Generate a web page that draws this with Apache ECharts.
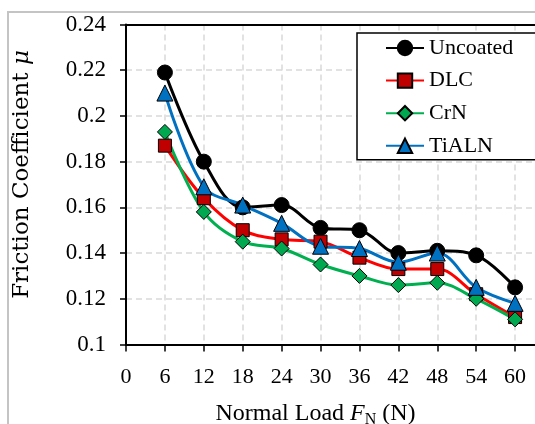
<!DOCTYPE html>
<html>
<head>
<meta charset="utf-8">
<script src="https://cdn.jsdelivr.net/npm/echarts@6/dist/echarts.min.js"></script>
<style>
html,body{margin:0;padding:0;background:#fff;}
#chart{width:535px;height:424px;}
</style>
</head>
<body>
<div id="chart"></div>
<script>
// ---- data ----
var loads = [6, 12, 18, 24, 30, 36, 42, 48, 54, 60];
var uncoated = [0.219, 0.180, 0.160, 0.161, 0.151, 0.150, 0.140, 0.141, 0.139, 0.125];
var dlc      = [0.187, 0.164, 0.150, 0.146, 0.145, 0.138, 0.133, 0.133, 0.122, 0.112];
var crn      = [0.193, 0.158, 0.145, 0.142, 0.135, 0.130, 0.126, 0.127, 0.120, 0.111];
var tialn    = [0.210, 0.169, 0.161, 0.153, 0.143, 0.142, 0.136, 0.140, 0.125, 0.118];
var seriesNames = ['Uncoated', 'DLC', 'CrN', 'TiALN'];
var xTitle = 'Normal Load {i|F}{sub|N} (N)';
var yTitle = 'Friction Coefficient {i|μ}';

function pairs(vals) {
  return loads.map(function (x, i) { return [x, vals[i]]; });
}

var serif = "'Liberation Serif', 'Times New Roman', serif";

function mk(name, vals, symbol, size, lineColor, fillColor, borderW) {
  return {
    name: name,
    type: 'line',
    xAxisIndex: 0,
    data: pairs(vals),
    smooth: 0.35,
    symbol: symbol,
    symbolSize: size,
    lineStyle: { color: lineColor, width: 3 },
    itemStyle: { color: fillColor, borderColor: '#000', borderWidth: borderW },
    emphasis: { disabled: true }
  };
}

var chart = echarts.init(document.getElementById('chart'), null, { renderer: 'canvas' });
chart.setOption({
  animation: false,
  backgroundColor: '#fff',
  graphic: [{
    type: 'rect',
    z: -10,
    shape: { x: 8, y: 12, width: 700, height: 600 },
    style: { fill: 'none', stroke: '#c4c4c4', lineWidth: 2 }
  }],
  grid: {
    left: 126, top: 24.5, width: 428, height: 320,
    outerBoundsMode: 'none',
    containLabel: false
  },
  legend: {
    orient: 'vertical',
    left: 357, top: 33,
    padding: [4, 110, 3, 28],
    itemGap: 10.6,
    itemWidth: 38, itemHeight: 18,
    backgroundColor: '#fff',
    borderColor: '#000', borderWidth: 1.5,
    data: seriesNames,
    textStyle: { fontFamily: serif, fontSize: 22, color: '#000', lineHeight: 22 }
  },
  xAxis: [{
    type: 'value',
    min: 0, max: 66, interval: 6,
    name: xTitle,
    nameLocation: 'middle',
    nameGap: 55,
    nameTextStyle: {
      fontFamily: serif, fontSize: 24, color: '#000',
      padding: [0, 49, 0, 0],
      rich: {
        i: { fontFamily: serif, fontSize: 24, fontStyle: 'italic', color: '#000' },
        sub: { fontFamily: serif, fontSize: 16, color: '#000', padding: [12, 0, 0, 0] }
      }
    },
    axisLine: { show: true, lineStyle: { color: '#000', width: 2 } },
    axisTick: { show: true, inside: false, length: 7, lineStyle: { color: '#000', width: 1.5 } },
    axisLabel: { fontFamily: serif, fontSize: 22, color: '#000', margin: 22 },
    splitLine: { show: true, lineStyle: { color: '#d9d9d9', width: 1.5, type: [6, 4] } }
  }, {
    type: 'value',
    position: 'top',
    min: 0, max: 66, interval: 6,
    axisLine: { show: true, onZero: false, lineStyle: { color: '#000', width: 2 } },
    axisTick: { show: false },
    axisLabel: { show: false },
    splitLine: { show: false }
  }],
  yAxis: {
    type: 'value',
    min: 0.1, max: 0.24, interval: 0.02,
    name: yTitle,
    nameLocation: 'middle',
    nameGap: 92,
    nameTextStyle: {
      fontFamily: "'DejaVu Serif', serif", fontSize: 23, color: '#000',
      padding: [0, 0, 0, 20],
      rich: {
        i: { fontFamily: "'DejaVu Serif', serif", fontSize: 23, fontStyle: 'italic', color: '#000' }
      }
    },
    axisLine: { show: true, onZero: false, lineStyle: { color: '#000', width: 2 } },
    axisTick: { show: true, inside: false, length: 6, lineStyle: { color: '#000', width: 1.5 } },
    axisLabel: { fontFamily: serif, fontSize: 23, color: '#000', margin: 20 },
    splitLine: { show: true, lineStyle: { color: '#d9d9d9', width: 1.5, type: [6, 4] } }
  },
  series: [
    mk(seriesNames[0], uncoated, 'circle', 15, '#000000', '#000000', 1),
    mk(seriesNames[1], dlc, 'rect', 13, '#ff0000', '#c00000', 1),
    mk(seriesNames[2], crn, 'diamond', 15, '#00b050', '#00a84f', 1),
    mk(seriesNames[3], tialn, 'triangle', 16, '#0070c0', '#0070c0', 1)
  ]
});
</script>
</body>
</html>
